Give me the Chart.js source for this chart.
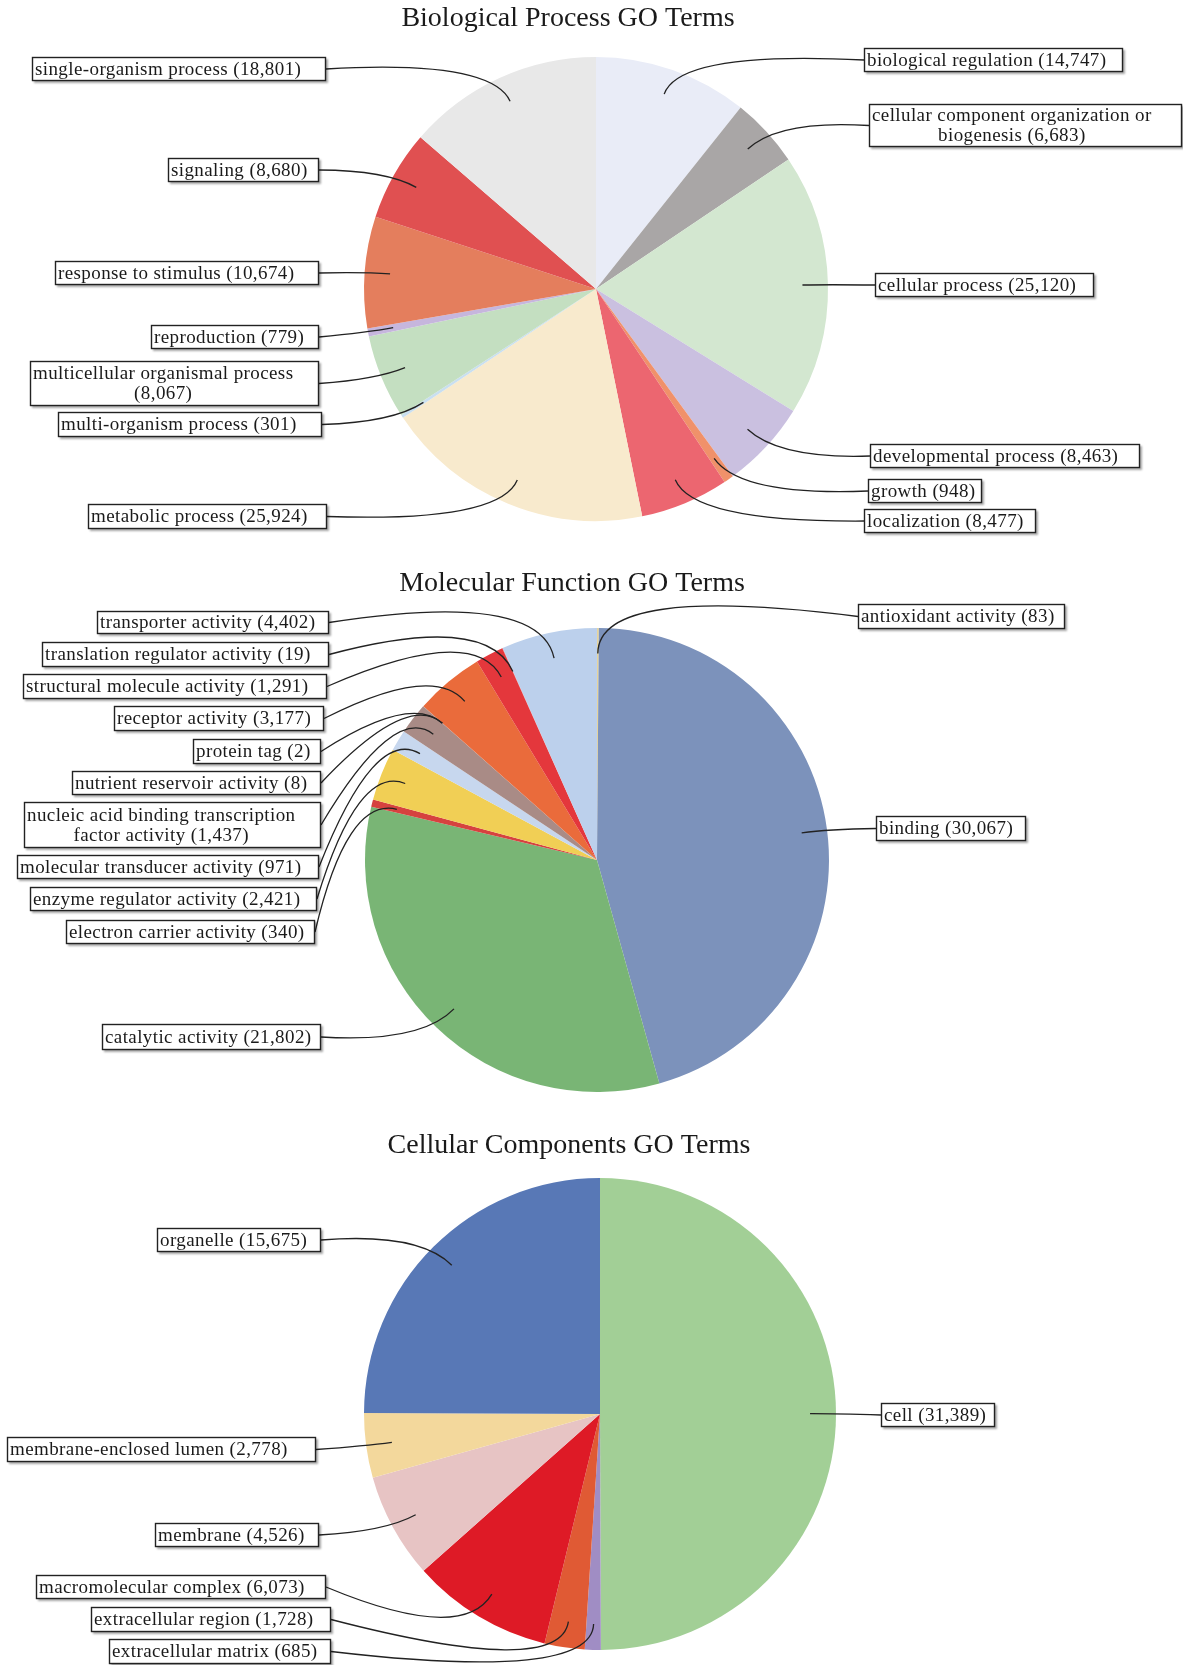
<!DOCTYPE html>
<html>
<head>
<meta charset="utf-8">
<script src="https://cdn.jsdelivr.net/npm/chart.js@4.4.1/dist/chart.umd.min.js"></script>
<style>
  body { margin: 0; background: #fff; }
  #wrap { position: relative; width: 1183px; height: 1665px; }
  canvas { position: absolute; left: 0; }
</style>
</head>
<body>
<div id="wrap">
  <canvas id="bp-chart" width="1183" height="560" style="top:0px"></canvas>
  <canvas id="mf-chart" width="1183" height="540" style="top:560px"></canvas>
  <canvas id="cc-chart" width="1183" height="565" style="top:1100px"></canvas>
</div>
<script>
// biological process
const bpLabels = ["biological regulation", "cellular component organization or biogenesis", "cellular process",
    "developmental process", "growth", "localization", "metabolic process", "multi-organism process",
    "multicellular organismal process", "reproduction", "response to stimulus", "signaling", "single-organism process"];
const bpValues = [14747, 6683, 25120, 8463, 948, 8477, 25924, 301, 8067, 779, 10674, 8680, 18801];
const bpColors = ["#e9ecf7", "#a9a6a6", "#d3e7d0", "#cac0e0", "#f0916a", "#ec6670", "#f8eacd", "#c9dff0",
    "#c4dfc1", "#c6b6dd", "#e47e5d", "#e05051", "#e8e8e8"];

// molecular function
const mfLabels = ["antioxidant activity", "binding", "catalytic activity", "electron carrier activity",
    "enzyme regulator activity", "molecular transducer activity", "nucleic acid binding transcription factor activity",
    "nutrient reservoir activity", "protein tag", "receptor activity", "structural molecule activity",
    "translation regulator activity", "transporter activity"];
const mfValues = [83, 30067, 21802, 340, 2421, 971, 1437, 8, 2, 3177, 1291, 19, 4402];
const mfColors = ["#e6d49c", "#7c92bb", "#79b575", "#d6423f", "#f1cf55", "#c7d7ee", "#a98b86", "#8fb0d8",
    "#b9c9e0", "#ea6b3b", "#e4373c", "#e55050", "#bcd0ec"];

// cellular components
const ccLabels = ["cell", "extracellular matrix", "extracellular region", "macromolecular complex",
    "membrane", "membrane-enclosed lumen", "organelle"];
const ccValues = [31389, 685, 1728, 6073, 4526, 2778, 15675];
const ccColors = ["#a2cf96", "#a08dc4", "#e05a34", "#de1a26", "#e7c4c4", "#f3d89c", "#5878b6"];

// label boxes [x, y, w, h] in canvas pixels, same order as the data; breaks = words on first line
const bpBoxes = [[864, 48, 259, 24], [869, 104, 313, 43], [875, 273, 219, 24], [870, 444, 270, 24],
    [868, 479, 114, 24], [864, 509, 172, 24], [88, 504, 239, 25], [58, 412, 264, 25], [30, 361, 289, 45],
    [151, 325, 168, 24], [55, 261, 264, 24], [168, 158, 151, 24], [32, 57, 294, 24]];
const bpBreaks = { 1: 4, 8: 3 };

const mfBoxes = [[858, 44, 207, 25], [876, 256, 150, 25], [102, 464, 219, 26], [66, 360, 249, 24],
    [30, 327, 287, 24], [17, 295, 302, 24], [24, 242, 297, 46], [72, 211, 249, 24], [193, 179, 128, 25],
    [114, 146, 210, 25], [23, 114, 304, 25], [42, 82, 287, 25], [97, 51, 232, 23]];
const mfBreaks = { 6: 4 };

const ccBoxes = [[881, 303, 114, 24], [109, 539, 222, 25], [91, 507, 240, 25], [36, 475, 290, 24],
    [155, 423, 164, 24], [7, 337, 309, 25], [157, 128, 164, 24]];
const ccBreaks = {};

const serif = '"Liberation Serif", "Times New Roman", serif';

function labelText(name, value) {
    return name + " (" + value.toLocaleString("en-US") + ")";
}

// draws title, boxed labels and curved leader lines
const calloutPlugin = {
    id: 'callouts',
    afterDatasetsDraw(chart, args, opts) {
        const ctx = chart.ctx;
        const meta = chart.getDatasetMeta(0);
        const values = chart.data.datasets[0].data;
        ctx.save();

        ctx.fillStyle = '#1a1a1a';
        ctx.font = '28px ' + serif;
        ctx.textAlign = 'center';
        ctx.textBaseline = 'middle';
        ctx.fillText(opts.title, opts.titleX, opts.titleY);

        meta.data.forEach((arc, i) => {
            const p = arc.getProps(['x', 'y', 'startAngle', 'endAngle', 'outerRadius'], true);
            const mid = (p.startAngle + p.endAngle) / 2;
            const ux = Math.cos(mid), uy = Math.sin(mid);
            const ex = p.x + ux * p.outerRadius * 0.89;
            const ey = p.y + uy * p.outerRadius * 0.89;

            const [bx, by, bw, bh] = opts.boxes[i];
            const onLeft = bx + bw / 2 < p.x;
            const sx = onLeft ? bx + bw : bx;
            const sy = by + bh / 2;
            // control point sits just outside the end point, along the radius
            const d = Math.hypot(ex - sx, ey - sy);
            const L = Math.min(d * 0.35, opts.lead);
            const cx = ex + ux * L, cy = ey + uy * L;

            ctx.strokeStyle = '#222';
            ctx.lineWidth = 1.3;
            ctx.beginPath();
            ctx.moveTo(sx, sy);
            ctx.quadraticCurveTo(cx, cy, ex, ey);
            ctx.stroke();

            // box with a soft shadow
            ctx.save();
            ctx.shadowColor = 'rgba(0,0,0,0.35)';
            ctx.shadowOffsetX = 2;
            ctx.shadowOffsetY = 2;
            ctx.shadowBlur = 2;
            ctx.fillStyle = '#fff';
            ctx.fillRect(bx, by, bw, bh);
            ctx.restore();
            ctx.strokeStyle = '#222';
            ctx.lineWidth = 1.4;
            ctx.strokeRect(bx + 0.5, by + 0.5, bw - 1, bh - 1);

            ctx.fillStyle = '#1a1a1a';
            ctx.font = '19px ' + serif;
            ctx.letterSpacing = '0.4px';
            ctx.textBaseline = 'middle';
            const text = labelText(chart.data.labels[i], values[i]);
            const br = opts.breaks[i];
            if (br) {
                const words = text.split(' ');
                const lines = [words.slice(0, br).join(' '), words.slice(br).join(' ')];
                const w = Math.max(...lines.map(l => ctx.measureText(l).width));
                ctx.textAlign = 'center';
                ctx.fillText(lines[0], bx + 3 + w / 2, by + bh / 2 - 9);
                ctx.fillText(lines[1], bx + 3 + w / 2, by + bh / 2 + 11);
            } else {
                ctx.textAlign = 'left';
                ctx.fillText(text, bx + 3, by + bh / 2 + 1);
            }
            ctx.letterSpacing = '0px';
        });
        ctx.restore();
    }
};

function makePie(id, labels, values, colors, pad, callouts) {
    const ctx = document.getElementById(id).getContext('2d');
    return new Chart(ctx, {
        type: 'pie',
        data: {
            labels: labels,
            datasets: [{
                data: values,
                backgroundColor: colors,
                borderWidth: 0
            }]
        },
        options: {
            responsive: false,
            animation: false,
            layout: { padding: pad },
            plugins: {
                legend: { display: false },
                tooltip: { enabled: false },
                callouts: callouts
            }
        },
        plugins: [calloutPlugin]
    });
}

// chart areas are squares of 2r around the pie centre
makePie('bp-chart', bpLabels, bpValues, bpColors,
    { left: 364, right: 355, top: 57, bottom: 39 },
    { title: 'Biological Process GO Terms', titleX: 568, titleY: 19, boxes: bpBoxes, breaks: bpBreaks, lead: 46 });

makePie('mf-chart', mfLabels, mfValues, mfColors,
    { left: 365, right: 354, top: 68, bottom: 8 },
    { title: 'Molecular Function GO Terms', titleX: 572, titleY: 24, boxes: mfBoxes, breaks: mfBreaks, lead: 70 });

makePie('cc-chart', ccLabels, ccValues, ccColors,
    { left: 364, right: 347, top: 78, bottom: 15 },
    { title: 'Cellular Components GO Terms', titleX: 569, titleY: 46, boxes: ccBoxes, breaks: ccBreaks, lead: 58 });
</script>
</body>
</html>
